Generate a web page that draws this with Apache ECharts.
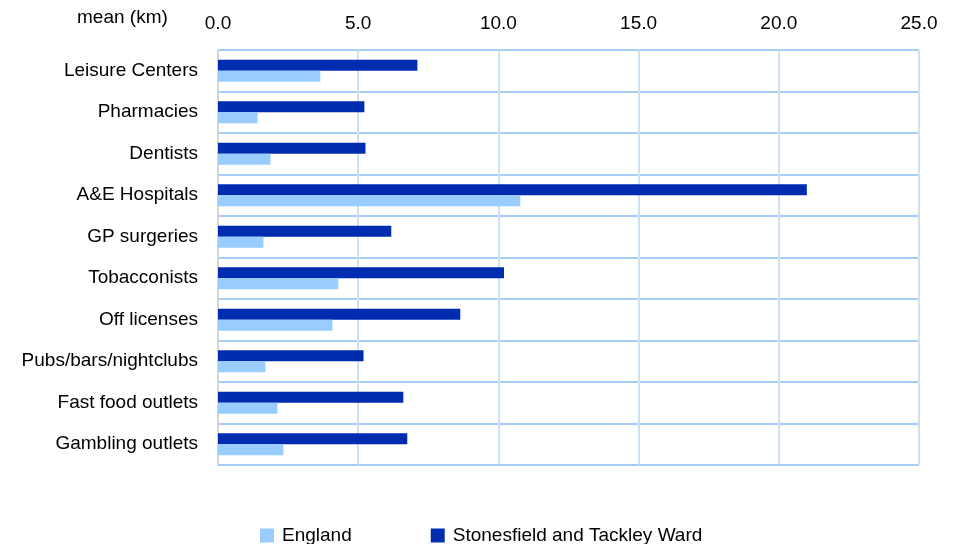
<!DOCTYPE html>
<html><head><meta charset="utf-8">
<script src="https://cdn.jsdelivr.net/npm/echarts@6/dist/echarts.min.js"></script>
<style>html,body{margin:0;padding:0;background:#fff}#c{width:957px;height:544px}</style>
</head><body><div id="c"></div>
<script>
const categories = ["Leisure Centers","Pharmacies","Dentists","A&E Hospitals","GP surgeries","Tobacconists","Off licenses","Pubs/bars/nightclubs","Fast food outlets","Gambling outlets"];
const england = [3.65, 1.41, 1.87, 10.78, 1.62, 4.29, 4.08, 1.69, 2.12, 2.33];
const stonesfield = [7.11, 5.22, 5.26, 21.0, 6.18, 10.2, 8.64, 5.19, 6.61, 6.75];
const xTicks = [0, 5, 10, 15, 20, 25];

const chart = echarts.init(document.getElementById('c'), null, {renderer:'canvas'});
const font = 'Liberation Sans, Arial, sans-serif';
const fs = 19;
chart.setOption({
  animation: false,
  textStyle: {fontFamily: font},
  grid: {left: 218, right: 38, top: 50, bottom: 79, containLabel: false},
  graphic: [{type:'text', left: 77, top: 8, style:{text:'mean (km)', fontSize:fs, fontFamily:font, fill:'#000'}}],
  legend: {
    top: 526, left: 260, padding: 0, itemWidth: 14, itemHeight: 14, itemGap: 79,
    icon: 'rect',
    data: ['England', 'Stonesfield and Tackley Ward'],
    textStyle: {fontSize: fs, fontFamily: font, color: '#000', padding: [0, 0, 0, 3]}
  },
  xAxis: {
    type: 'value', position: 'top', min: xTicks[0], max: xTicks[xTicks.length-1], interval: 5,
    axisLine: {show: false}, axisTick: {show: false},
    axisLabel: {fontSize: fs, color: '#000', fontFamily: font, margin: 17, formatter: v => v.toFixed(1)},
    splitLine: {show: true, lineStyle: {color: '#cfe0f5', width: 2}}
  },
  yAxis: {
    type: 'category', data: categories, inverse: true,
    axisLine: {show: true, lineStyle: {color: '#d6d6d6', width: 2}},
    axisTick: {show: false},
    axisLabel: {fontSize: fs, color: '#000', fontFamily: font, margin: 20},
    splitLine: {show: true, lineStyle: {color: '#a6cdf7', width: 2}}
  },
  series: [
    {name: 'Stonesfield and Tackley Ward', type: 'bar', data: stonesfield, barWidth: 11, barGap: '0%', itemStyle: {color: '#002db0'}},
    {name: 'England', type: 'bar', data: england, barWidth: 11, barGap: '0%', itemStyle: {color: '#99ccff'}}
  ]
});
</script></body></html>
